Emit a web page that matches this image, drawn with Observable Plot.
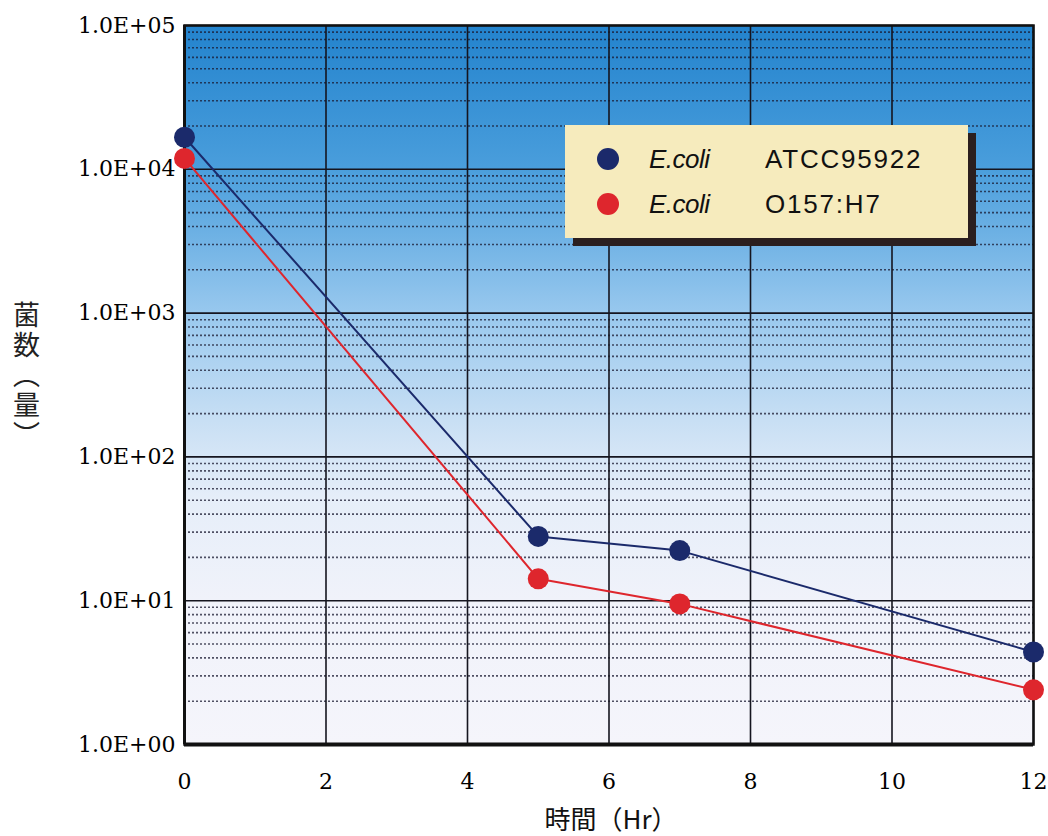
<!DOCTYPE html>
<html><head><meta charset="utf-8">
<script src="https://cdn.jsdelivr.net/npm/d3@7"></script>
<script src="https://cdn.jsdelivr.net/npm/@observablehq/plot@0.6"></script>
<style>
body{margin:0;background:#fff;}
#wrap{position:relative;width:1048px;height:836px;}
#legend{position:absolute;left:565px;top:125px;width:403px;height:113px;background:#f6ebbd;box-shadow:8px 8px 0 #2b1f1f;font-family:"Liberation Sans",Arial,sans-serif;font-size:26px;color:#111;}
.row{position:absolute;left:0;height:40px;display:flex;align-items:center;}
.dot{position:absolute;left:32px;width:22px;height:22px;border-radius:50%;}
.sp{position:absolute;left:84px;font-style:italic;letter-spacing:-0.5px;}
.st{position:absolute;left:200px;letter-spacing:1.8px;}
</style></head>
<body><div id="wrap"></div>
<script>
const time = [0, 5, 7, 12];
const atcc = [16700, 28, 22.3, 4.4];
const o157 = [11900, 14.2, 9.5, 2.4];
const seriesNames = ["ATCC95922", "O157:H7"];
const seriesColors = ["#1b2a6b", "#de262d"];
const xTicks = [0, 2, 4, 6, 8, 10, 12];
const yTicks = [1, 10, 100, 1000, 10000, 100000];
const yLabelText = "菌数（量）";
const xLabelText = "時間（Hr）";

const data = [];
time.forEach((t, i) => {
  data.push({t, v: atcc[i], s: seriesNames[0]});
  data.push({t, v: o157[i], s: seriesNames[1]});
});
const minor = [];
for (let d = 0; d < 5; d++) for (let k = 2; k <= 9; k++) minor.push(k * Math.pow(10, d));

function gradientBg(index, scales, values, dims) {
  const g = d3.create("svg:g");
  const defs = g.append("defs");
  const lg = defs.append("linearGradient").attr("id", "bg").attr("x1", 0).attr("y1", 0).attr("x2", 0).attr("y2", 1);
  [[0, "#2383cd"], [0.2, "#4a9edc"], [0.4, "#98c8ee"], [0.55, "#c8dff4"], [0.66, "#e6eef9"], [0.8, "#f0f2fa"], [1, "#f5f5fb"]]
    .forEach(([o, c]) => lg.append("stop").attr("offset", o).attr("stop-color", c));
  g.append("rect").attr("x", dims.marginLeft).attr("y", dims.marginTop)
    .attr("width", dims.width - dims.marginLeft - dims.marginRight)
    .attr("height", dims.height - dims.marginTop - dims.marginBottom)
    .attr("fill", "url(#bg)");
  return g.node();
}

const yFmt = d => "1.0E+" + String(Math.round(Math.log10(d))).padStart(2, "0");

const chart = Plot.plot({
  width: 1048, height: 836,
  marginLeft: 184, marginRight: 15, marginTop: 25, marginBottom: 92,
  style: {fontFamily: "'DejaVu Serif', 'Liberation Serif', serif", fontSize: "22px", background: "transparent"},
  x: {domain: [0, 12], ticks: xTicks, tickSize: 0, tickPadding: 28, label: null, tickFormat: d => String(d)},
  y: {type: "log", domain: [1, 100000], ticks: yTicks, tickSize: 0, tickPadding: 8, label: null, tickFormat: yFmt},
  marks: [
    gradientBg,
    Plot.ruleY(minor, {stroke: "#1a1a30", strokeWidth: 1.6, strokeDasharray: "2,2", strokeOpacity: 0.75}),
    Plot.ruleY(yTicks, {stroke: "#15151f", strokeWidth: 1.6}),
    Plot.ruleX(xTicks, {stroke: "#15151f", strokeWidth: 1.6}),
    Plot.axisX({ticks: xTicks, tickSize: 0, tickPadding: 29, fontSize: 22, label: null, tickFormat: d => String(d)}),
    Plot.axisY({ticks: yTicks, tickSize: 0, tickPadding: 9, fontSize: 22, label: null, tickFormat: yFmt}),
    Plot.frame({stroke: "#111", strokeWidth: 2.5}),
    Plot.ruleY([1], {stroke: "#111", strokeWidth: 4}),
    Plot.ruleX([0], {stroke: "#111", strokeWidth: 3}),
    Plot.line(data, {x: "t", y: "v", z: "s", stroke: d => d.s === seriesNames[0] ? seriesColors[0] : seriesColors[1], strokeWidth: 2}),
    Plot.dot(data, {x: "t", y: "v", r: 10.5, fill: d => d.s === seriesNames[0] ? seriesColors[0] : seriesColors[1], stroke: null}),
    Plot.text([xLabelText], {frameAnchor: "bottom", dx: 2, dy: 84, fontSize: 26, fill: "#111", fontFamily: "'Noto Sans CJK JP', sans-serif"}),
    Plot.text([yLabelText], {frameAnchor: "left", dx: -158, dy: -17, fontSize: 27, fill: "#222", fontFamily: "'Noto Sans CJK JP', sans-serif", textAnchor: "middle",
      render(index, scales, values, dims, ctx, next) {
        const g = next(index, scales, values, dims, ctx);
        d3.select(g).selectAll("text")
          .style("writing-mode", "vertical-rl")
          .style("text-orientation", "upright")
          .style("letter-spacing", "3px")
          .attr("dy", null);
        return g;
      }})
  ]
});
document.getElementById("wrap").appendChild(chart);

const leg = document.createElement("div");
leg.id = "legend";
seriesNames.forEach((n, i) => {
  const row = document.createElement("div");
  row.className = "row";
  row.style.top = (14 + i * 45) + "px";
  row.style.width = "100%";
  row.innerHTML = `<span class="dot" style="background:${seriesColors[i]}"></span><span class="sp">E.coli</span><span class="st">${n}</span>`;
  leg.appendChild(row);
});
document.getElementById("wrap").appendChild(leg);
</script></body></html>
